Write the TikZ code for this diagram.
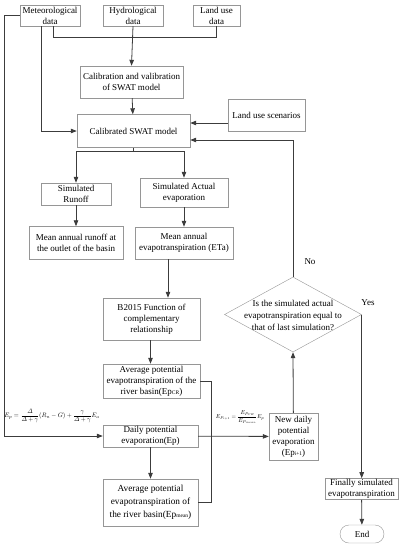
\documentclass[tikz,border=0pt]{standalone}
\usepackage{fontspec}
\setmainfont{Liberation Serif}
\usepackage{amsmath}
\usepackage{tikz}
\usetikzlibrary{arrows.meta, shapes, positioning}
\definecolor{boxline}{RGB}{150,150,150}
\definecolor{flowline}{RGB}{60,60,60}

\begin{document}
\begin{tikzpicture}[x=1pt, y=-1pt,
    box/.style={draw=boxline, fill=white, align=center, inner sep=1pt, font=\fontsize{9}{11}\selectfont},
    arr/.style={draw=flowline, line width=0.8pt, -{Triangle[length=6pt, width=4.5pt]}},
    ln/.style={draw=flowline, line width=0.8pt}]
    \useasboundingbox (0,0) rectangle (404,550);

    % Input data on top row
    \node[box, minimum width=60, minimum height=21] (met) at (50,15.5) {Meteorological\\data};
    \node[box, minimum width=60, minimum height=21] (hyd) at (133,15.5) {Hydrological\\data};
    \node[box, minimum width=47, minimum height=21] (land) at (216.5,15.5) {Land use\\data};

    % Calibration of the model
    \node[box, minimum width=103, minimum height=32] (calib) at (131.5,82) {Calibration and valibration\\of SWAT model};
    \node[box, minimum width=77, minimum height=32] (scen) at (266.5,115) {Land use scenarios};
    \node[box, minimum width=113, minimum height=33] (swat) at (133.5,131) {Calibrated SWAT model};

    % Outputs of the model
    \node[box, minimum width=70, minimum height=22] (runoff) at (76,194) {Simulated\\Runoff};
    \node[box, minimum width=88, minimum height=29] (actual) at (184,192.5) {Simulated Actual\\evaporation};
    \node[box, minimum width=94, minimum height=33] (meanro) at (76,243) {Mean annual runoff at\\the outlet of the basin};
    \node[box, minimum width=98, minimum height=32] (meaneta) at (184,243) {Mean annual\\evapotranspiration (ETa)};

    % Complementary relationship
    \node[box, minimum width=97, minimum height=42] (b2015) at (151.5,319) {B2015 Function of\\complementary\\relationship};
    \node[box, minimum width=97, minimum height=34] (epcr) at (151.5,381) {Average potential\\evapotranspiration of the\\river basin(Ep{\fontsize{5.5}{6}\selectfont CR})};

    % Daily potential evaporation
    \node[box, minimum width=95, minimum height=22] (dailyep) at (150.5,436) {Daily potential\\evaporation(Ep)};
    \node[box, font=\fontsize{9.3}{13}\selectfont, minimum width=95, minimum height=47] (epmean) at (150.5,502.5) {Average potential\\evapotranspiration of\\the river basin(Ep{\fontsize{5.5}{6}\selectfont mean})};
    \node[box, minimum width=49, minimum height=47] (newep) at (293.5,436.5) {New daily\\potential\\evaporation\\(Ep{\fontsize{5.5}{6}\selectfont i+1})};

    % Formulas
    \node[inner sep=0] (fml1) at (52,416)
        {\resizebox{95pt}{!}{$E_p=\dfrac{\varDelta}{\varDelta+\gamma}(R_n-G)+\dfrac{\gamma}{\varDelta+\gamma}E_a$}};
    \node[inner sep=0] (fml2) at (240,417)
        {\resizebox{48pt}{!}{$E_{P_{i+1}}=\dfrac{E_{P_{CR}}}{E_{P_{mean}}}E_p$}};

    % Decision
    \node[diamond, draw=boxline, fill=white, minimum width=137, minimum height=75, inner sep=0] (dec) at (293,314.5) {};
    \node[align=center, font=\fontsize{9}{12}\selectfont, inner sep=0] (dectext) at (293,315)
        {Is the simulated actual\\evapotranspiration equal to\\that of last simulation?};
    \node[font=\fontsize{9}{11}\selectfont] (nolab) at (310,262) {No};
    \node[font=\fontsize{9}{11}\selectfont] (yeslab) at (368,303) {Yes};

    % End of the flow
    \node[box, minimum width=73, minimum height=21] (final) at (361.5,489) {Finally simulated\\evapotranspiration};
    \node[box, rounded corners=9pt, minimum width=44, minimum height=18] (endn) at (362,534) {End};

    % Connectors
    \draw[ln] ([xshift=3]met.south) -- ++(0,11) -| (land.south);
    \draw[arr] (hyd.south) -- (calib.north);
    \draw[arr] ([xshift=-9]met.south) |- (swat.west);
    \draw[arr] (met.west) -- ++(-15,0) |- (dailyep.west);
    \draw[arr] (calib) -- (swat);
    \draw[arr] ([yshift=-8]scen.west) -- ([yshift=-8]scen.west -| swat.east);
    \draw[ln] (swat.south) -- ++(0,4) coordinate (sp);
    \draw[arr] (sp) -| (runoff.north);
    \draw[arr] (sp) -| (actual.north);
    \draw[arr] (runoff) -- (meanro);
    \draw[arr] (actual) -- (meaneta);
    \draw[arr] ([xshift=-16]meaneta.south) -- ([xshift=-16]meaneta.south |- b2015.north);
    \draw[arr] ([xshift=-1]b2015.south) -- ([xshift=-1]epcr.north);
    \draw[ln] (epcr.east) -- ++(11,0) |- (epmean.east);
    \draw[arr] (dailyep) -- (epmean);
    \draw[arr] (dailyep) -- (newep);
    \draw[arr] (newep) -- (dec.south);
    \draw[arr] (dec.north) |- ([yshift=-9]swat.east);
    \draw[arr] (dec.east) -- (dec.east |- final.north);
    \draw[arr] (final) -- (endn);
\end{tikzpicture}
\end{document}
